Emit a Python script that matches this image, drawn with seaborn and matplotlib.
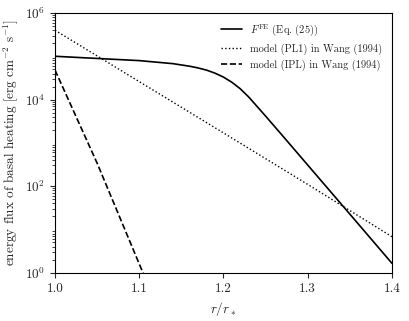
import numpy as np
import pandas as pd
import matplotlib
matplotlib.use("Agg")
import matplotlib.pyplot as plt
import seaborn as sns

# ---- data ----
r_fe = [1.00, 1.05, 1.10, 1.14, 1.16, 1.17, 1.18, 1.19, 1.20, 1.21, 1.22,
        1.23, 1.24, 1.25, 1.27, 1.30, 1.33, 1.36, 1.40]
logF_fe = [5.00, 4.95, 4.90, 4.83, 4.77, 4.73, 4.68, 4.61, 4.52, 4.40, 4.25,
           4.06, 3.84, 3.62, 3.17, 2.49, 1.81, 1.13, 0.22]

r_pl1 = [1.00, 1.10, 1.20, 1.30, 1.40]
F_pl1 = [4.0e5, 2.6e4, 1.7e3, 1.1e2, 6.8]

r_ipl = [1.00, 1.05, 1.10, 1.12]
F_ipl = [4.8e4, 3.4e2, 1.6, 0.19]

labels = [r"$F^{\rm FE}$ (Eq. (25))",
          r"model (PL1) in Wang (1994)",
          r"model (IPL) in Wang (1994)"]

sns.set_style("ticks")
plt.rcParams.update({
    "font.family": "serif",
    "font.serif": ["cmr10"],
    "mathtext.fontset": "cm",
    "axes.formatter.use_mathtext": True,
    "axes.unicode_minus": False,
    "font.size": 9.5,
    "axes.linewidth": 0.8,
    "xtick.direction": "out",
    "ytick.direction": "out",
    "xtick.major.size": 3.5,
    "ytick.major.size": 3.5,
    "ytick.minor.size": 2.0,
    "xtick.major.width": 0.8,
    "ytick.major.width": 0.8,
    "ytick.minor.width": 0.6,
    "axes.edgecolor": "black",
})

fig = plt.figure(figsize=(4.09, 3.21), dpi=100)
ax = fig.add_axes([0.1345, 0.1505, 0.8235, 0.809])

df_fe = pd.DataFrame({"r": r_fe, "F": 10 ** np.array(logF_fe)})
df_pl1 = pd.DataFrame({"r": r_pl1, "F": F_pl1})
df_ipl = pd.DataFrame({"r": r_ipl, "F": F_ipl})

sns.lineplot(data=df_fe, x="r", y="F", ax=ax, color="black", lw=1.2,
             linestyle="-", label=labels[0])
sns.lineplot(data=df_pl1, x="r", y="F", ax=ax, color="black", lw=1.0,
             linestyle=":", label=labels[1])
sns.lineplot(data=df_ipl, x="r", y="F", ax=ax, color="black", lw=1.2,
             linestyle="--", label=labels[2])

ax.set_yscale("log")
ax.set_xlim(1.0, 1.4)
ax.set_ylim(1, 1e6)
ax.set_xticks([1.0, 1.1, 1.2, 1.3, 1.4])
ax.set_xticklabels(["1.0", "1.1", "1.2", "1.3", "1.4"])
ax.set_yticks([1, 1e2, 1e4, 1e6])
ax.set_xlabel(r"$r/r_*$")
ax.set_ylabel(r"energy flux of basal heating [erg cm$^{-2}$ s$^{-1}$]")
for s in ax.spines.values():
    s.set_visible(True)

leg = ax.legend(loc="upper right", frameon=False, fontsize=7.5)

fig.savefig("out.png", dpi=100)
